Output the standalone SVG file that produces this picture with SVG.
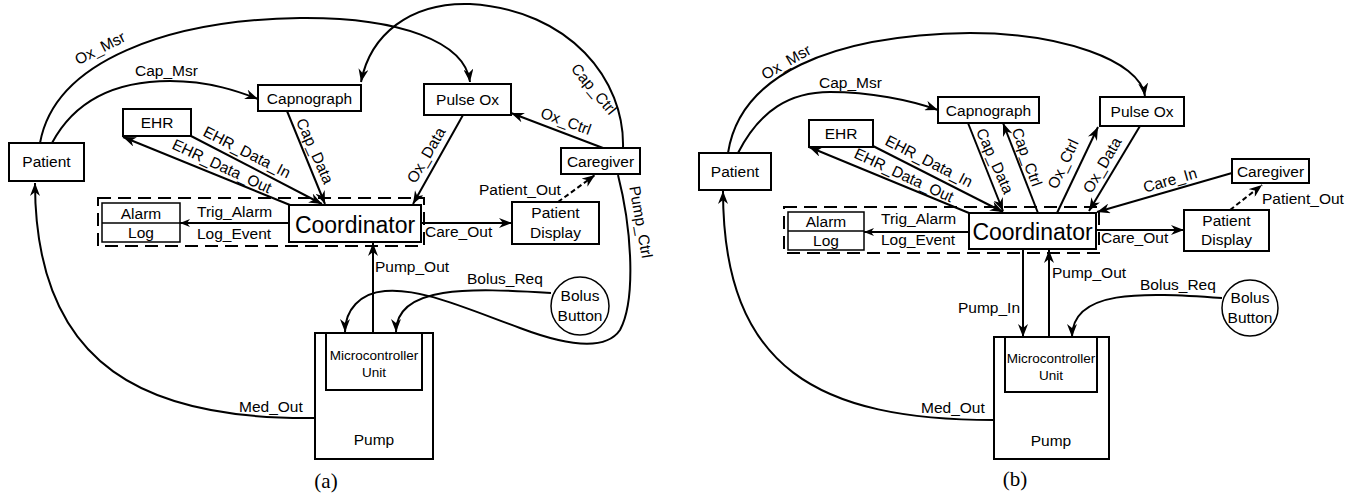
<svg xmlns="http://www.w3.org/2000/svg" width="1356" height="500" viewBox="0 0 1356 500">
  <style>
    .box { fill: #fff; stroke: #000; stroke-width: 2; }
    .thin { fill: #fff; stroke: #000; stroke-width: 1.5; }
    .grp { fill: none; stroke: #000; stroke-width: 2; stroke-dasharray: 13 7; }
    .c { fill: none; stroke: #000; stroke-width: 2; marker-end: url(#arr); }
    .d { fill: none; stroke: #000; stroke-width: 2; stroke-dasharray: 5 3; marker-end: url(#arr); }
    .s { fill: none; stroke: #000; stroke-width: 1.8; marker-end: url(#arrs); }
    text { font-family: "Liberation Sans", Arial, sans-serif; font-size: 15.5px; fill: #000; }
    .m { text-anchor: middle; }
    .big { font-size: 23px; }
    .mcu { font-size: 13.5px; }
    .cap { font-family: "Liberation Serif", "Times New Roman", serif; font-size: 21px; }
  </style>
  <defs>
    <marker id="arr" viewBox="0 0 13 10" refX="13" refY="5" markerWidth="13" markerHeight="10" markerUnits="userSpaceOnUse" orient="auto">
      <path d="M0,0 L13,5 L0,10 L4,5 Z" fill="#000"/>
    </marker>
    <marker id="arrs" viewBox="0 0 10 8" refX="10" refY="4" markerWidth="10" markerHeight="8" markerUnits="userSpaceOnUse" orient="auto">
      <path d="M0,0 L10,4 L0,8 L3,4 Z" fill="#000"/>
    </marker>
  </defs>
  <rect width="1356" height="500" fill="#fff"/>

  <!-- ===== (a) ===== -->
  <g id="a-connectors">
    <path class="c" d="M40,143 C55,60 170,20 300,18 C400,17 465,42 470,82"/>
    <path class="c" d="M52,143 C75,100 115,81 170,81 C210,81 240,92 258,99"/>
    <path class="c" d="M623,148 C625,80 570,10 470,4 C410,2 370,35 361,82"/>
    <path class="c" d="M191,136 L322,204"/>
    <path class="c" d="M290,205 L123,137"/>
    <path class="c" d="M287,111 L325,204"/>
    <path class="c" d="M463,115 L413,204"/>
    <path class="c" d="M603,148 L511,113"/>
    <path class="d" d="M558,202 L595,175"/>
    <path class="s" d="M289,223 L180,223"/>
    <path class="c" d="M421,223 L512,223"/>
    <path class="c" d="M373,333 L373,243"/>
    <path class="c" d="M551,293 C470,288 396,285 396,332"/>
    <path class="c" d="M618,175 C632,230 636,300 620,330 C605,352 565,345 520,328 C460,306 420,288 385,291 C360,293 345,310 345,332"/>
    <path class="c" d="M315,418 C150,420 35,370 35,183"/>
  </g>
  <g id="a-labels">
    <text transform="translate(100,48) rotate(-27)" dy=".35em" class="m">Ox_Msr</text>
    <text x="135" y="76">Cap_Msr</text>
    <text transform="translate(594,89) rotate(50)" dy=".35em" class="m">Cap_Ctrl</text>
    <text transform="translate(247,152) rotate(27)" dy=".35em" class="m">EHR_Data_In</text>
    <text transform="translate(222,166) rotate(25)" dy=".35em" class="m">EHR_Data_Out</text>
    <text transform="translate(315,151) rotate(66)" dy=".35em" class="m">Cap_Data</text>
    <text transform="translate(426,155) rotate(-60)" dy=".35em" class="m">Ox_Data</text>
    <text transform="translate(566,121) rotate(20)" dy=".35em" class="m">Ox_Ctrl</text>
    <text x="479" y="195">Patient_Out</text>
    <text x="197" y="217">Trig_Alarm</text>
    <text x="197" y="239">Log_Event</text>
    <text x="425" y="237">Care_Out</text>
    <text x="375" y="272">Pump_Out</text>
    <text x="467" y="284">Bolus_Req</text>
    <text transform="translate(641,222) rotate(80)" dy=".35em" class="m">Pump_Ctrl</text>
    <text x="239" y="412">Med_Out</text>
  </g>
  <rect class="grp" x="98" y="198" width="326" height="48"/>
  <g id="a-patient"><rect class="box" x="9" y="143" width="75" height="38"/><text x="46.5" y="167" class="m">Patient</text></g>
  <g id="a-ehr"><rect class="box" x="123" y="109" width="68" height="27"/><text x="157" y="128" class="m">EHR</text></g>
  <g id="a-capnograph"><rect class="box" x="258" y="85" width="103" height="26"/><text x="309.5" y="103.5" class="m">Capnograph</text></g>
  <g id="a-pulseox"><rect class="box" x="424" y="84" width="87" height="31"/><text x="467.5" y="105" class="m">Pulse Ox</text></g>
  <g id="a-caregiver"><rect class="box" x="561" y="148" width="79" height="26"/><text x="600.5" y="166.5" class="m">Caregiver</text></g>
  <g id="a-display"><rect class="box" x="512" y="202" width="87" height="42"/><text x="555.5" y="218" class="m">Patient</text><text x="555.5" y="238" class="m">Display</text></g>
  <g id="a-alarmlog"><rect class="thin" x="102" y="203" width="78" height="39"/><line x1="102" y1="223" x2="180" y2="223" stroke="#000" stroke-width="1.5"/><text x="141" y="218.5" class="m">Alarm</text><text x="141" y="238" class="m">Log</text></g>
  <g id="a-coordinator"><rect class="box" x="289" y="205" width="132" height="37"/><text x="355" y="233" class="m big">Coordinator</text></g>
  <g id="a-bolus"><circle cx="580" cy="306" r="29" fill="#fff" stroke="#000" stroke-width="1.5"/><text x="580" y="301" class="m">Bolus</text><text x="580" y="321" class="m">Button</text></g>
  <g id="a-pump"><rect class="box" x="315" y="333" width="118" height="126"/><rect class="box" x="326" y="333" width="96" height="57"/><text x="374" y="360" class="m mcu">Microcontroller</text><text x="374" y="377" class="m mcu">Unit</text><text x="374" y="445" class="m">Pump</text></g>
  <text x="326" y="488" class="m cap">(a)</text>

  <!-- ===== (b) ===== -->
  <g id="b-connectors">
    <path class="c" d="M728,153 C740,75 830,35 970,33 C1060,33 1140,60 1145,96"/>
    <path class="c" d="M738,153 C760,110 790,92 830,92 C870,92 910,100 938,110"/>
    <path class="c" d="M873,146 L1003,212"/>
    <path class="c" d="M969,213 L809,147"/>
    <path class="c" d="M968,123 L1003,211"/>
    <path class="c" d="M1038,213 L1003,123"/>
    <path class="c" d="M1057,213 L1098,127"/>
    <path class="c" d="M1140,126 L1089,211"/>
    <path class="c" d="M1232,173 L1097,212"/>
    <path class="d" d="M1230,210 L1262,185"/>
    <path class="s" d="M969,232 L864,232"/>
    <path class="c" d="M1096,230 L1184,230"/>
    <path class="c" d="M1023,249 L1023,337"/>
    <path class="c" d="M1049,337 L1049,250"/>
    <path class="c" d="M1222,298 C1140,292 1072,290 1072,337"/>
    <path class="c" d="M994,420 C820,420 723,370 723,191"/>
  </g>
  <g id="b-labels">
    <text transform="translate(786,62) rotate(-30)" dy=".35em" class="m">Ox_Msr</text>
    <text x="819" y="88">Cap_Msr</text>
    <text transform="translate(929,161) rotate(27)" dy=".35em" class="m">EHR_Data_In</text>
    <text transform="translate(904,175) rotate(25)" dy=".35em" class="m">EHR_Data_Out</text>
    <text transform="translate(995,161) rotate(66)" dy=".35em" class="m">Cap_Data</text>
    <text transform="translate(1027,157) rotate(70)" dy=".35em" class="m">Cap_Ctrl</text>
    <text transform="translate(1063,164) rotate(-65)" dy=".35em" class="m">Ox_Ctrl</text>
    <text transform="translate(1102,165) rotate(-60)" dy=".35em" class="m">Ox_Data</text>
    <text transform="translate(1170,180) rotate(-16)" dy=".35em" class="m">Care_In</text>
    <text x="1262" y="204">Patient_Out</text>
    <text x="881" y="224">Trig_Alarm</text>
    <text x="881" y="245">Log_Event</text>
    <text x="1101" y="243">Care_Out</text>
    <text x="958" y="313">Pump_In</text>
    <text x="1052" y="278">Pump_Out</text>
    <text x="1140" y="290">Bolus_Req</text>
    <text x="921" y="413">Med_Out</text>
  </g>
  <rect class="grp" x="784" y="207" width="315" height="46"/>
  <g id="b-patient"><rect class="box" x="699" y="153" width="72" height="37"/><text x="735" y="177" class="m">Patient</text></g>
  <g id="b-ehr"><rect class="box" x="809" y="120" width="64" height="27"/><text x="841" y="139" class="m">EHR</text></g>
  <g id="b-capnograph"><rect class="box" x="938" y="97" width="101" height="26"/><text x="988.5" y="115.5" class="m">Capnograph</text></g>
  <g id="b-pulseox"><rect class="box" x="1100" y="97" width="84" height="29"/><text x="1142" y="117" class="m">Pulse Ox</text></g>
  <g id="b-caregiver"><rect class="box" x="1232" y="159" width="77" height="24"/><text x="1270.5" y="176.5" class="m">Caregiver</text></g>
  <g id="b-display"><rect class="box" x="1184" y="210" width="85" height="41"/><text x="1226.5" y="226" class="m">Patient</text><text x="1226.5" y="245" class="m">Display</text></g>
  <g id="b-alarmlog"><rect class="thin" x="788" y="212" width="76" height="38"/><line x1="788" y1="231" x2="864" y2="231" stroke="#000" stroke-width="1.5"/><text x="826" y="226.5" class="m">Alarm</text><text x="826" y="246" class="m">Log</text></g>
  <g id="b-coordinator"><rect class="box" x="969" y="213" width="127" height="36"/><text x="1032.5" y="240" class="m big">Coordinator</text></g>
  <g id="b-bolus"><circle cx="1250" cy="308" r="28" fill="#fff" stroke="#000" stroke-width="1.5"/><text x="1250" y="303" class="m">Bolus</text><text x="1250" y="323" class="m">Button</text></g>
  <g id="b-pump"><rect class="box" x="994" y="337" width="115" height="122"/><rect class="box" x="1005" y="337" width="92" height="55"/><text x="1051" y="363" class="m mcu">Microcontroller</text><text x="1051" y="380" class="m mcu">Unit</text><text x="1051" y="446" class="m">Pump</text></g>
  <text x="1015" y="486" class="m cap">(b)</text>
</svg>
